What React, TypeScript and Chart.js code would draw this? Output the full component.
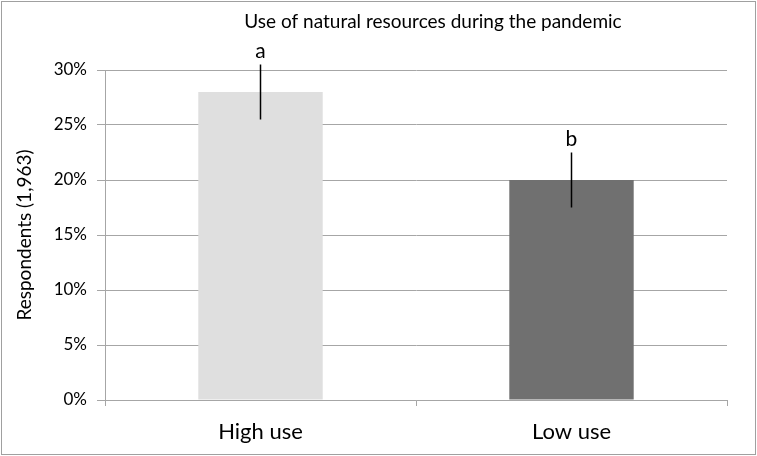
import { useEffect, useRef } from "react";
import { Chart, registerables } from "chart.js";

Chart.register(...registerables);

// Share of respondents (%) by level of natural-resource use
const categories = ["High use", "Low use"];
const respondentShare = [28, 20];
const errorMargin = [2.5, 2.5];
const significanceLetters = ["a", "b"];
const yTickValues = [0, 5, 10, 15, 20, 25, 30];
const chartTitle = "Use of natural resources during the pandemic";

const FONT = "Lato, 'Open Sans', sans-serif";
const GRID = "#a6a6a6";
const BAR_FILLS = ["#dfdfdf", "#707070"];

// Vertical error lines plus the significance letter above each bar
const errorBarPlugin = {
  id: "errorBars",
  afterDatasetsDraw(chart: any) {
    const { ctx } = chart;
    const yScale = chart.scales.y;
    const meta = chart.getDatasetMeta(0);
    ctx.save();
    meta.data.forEach((bar: any, i: number) => {
      const v = respondentShare[i];
      const e = errorMargin[i];
      const top = yScale.getPixelForValue(v + e);
      const bottom = yScale.getPixelForValue(v - e);
      ctx.strokeStyle = "#000";
      ctx.lineWidth = 1.5;
      ctx.beginPath();
      ctx.moveTo(bar.x, top);
      ctx.lineTo(bar.x, bottom);
      ctx.stroke();
      ctx.fillStyle = "#000";
      ctx.font = `21px ${FONT}`;
      ctx.textAlign = "center";
      ctx.textBaseline = "alphabetic";
      ctx.fillText(significanceLetters[i], bar.x, top - 7);
    });
    ctx.restore();
  },
};

// Chart heading (sits slightly right of the plot centre) and a thin grey frame
const framePlugin = {
  id: "frame",
  afterDraw(chart: any) {
    const { ctx, width, height, chartArea } = chart;
    ctx.save();
    ctx.fillStyle = "#000";
    ctx.font = `19px ${FONT}`;
    ctx.textAlign = "center";
    ctx.textBaseline = "middle";
    ctx.fillText(chartTitle, (chartArea.left + chartArea.right) / 2 + 17, 22);
    ctx.strokeStyle = "#a0a0a0";
    ctx.lineWidth = 1;
    ctx.strokeRect(1.5, 1.5, width - 3, height - 3);
    ctx.restore();
  },
};

export default function App() {
  const canvasRef = useRef<HTMLCanvasElement | null>(null);

  useEffect(() => {
    if (!canvasRef.current) return;
    const chart = new Chart(canvasRef.current, {
      type: "bar",
      data: {
        labels: categories,
        datasets: [
          {
            data: respondentShare,
            backgroundColor: BAR_FILLS,
            borderWidth: 0,
            barPercentage: 0.4,
            categoryPercentage: 1,
          },
        ],
      },
      options: {
        animation: false,
        responsive: false,
        layout: { padding: { left: 0, right: 30, top: 70, bottom: 0 } },
        plugins: {
          legend: { display: false },
          tooltip: { enabled: false },
          title: { display: false },
        },
        scales: {
          x: {
            offset: true,
            grid: {
              offset: true,
              drawOnChartArea: false,
              drawTicks: true,
              tickLength: 6,
              color: GRID,
            },
            border: { color: GRID, width: 1 },
            ticks: {
              color: "#000",
              font: { family: FONT, size: 22 },
              padding: 13,
            },
            afterFit(scale: any) {
              scale.height = 56;
            },
          },
          y: {
            min: 0,
            max: 30,
            afterBuildTicks(scale: any) {
              scale.ticks = yTickValues.map((value) => ({ value }));
            },
            grid: { color: GRID, tickLength: 8, drawTicks: true },
            border: { color: GRID, width: 1 },
            ticks: {
              color: "#000",
              font: { family: FONT, size: 17 },
              padding: 10,
              callback: (v: any) => `${v}%`,
            },
            title: {
              display: true,
              text: "Respondents (1,963)",
              color: "#000",
              font: { family: FONT, size: 19 },
              padding: { top: 13, bottom: 4 },
            },
            afterFit(scale: any) {
              scale.width = 105;
            },
          },
        },
      },
      plugins: [errorBarPlugin, framePlugin],
    });
    return () => chart.destroy();
  }, []);

  return (
    <div style={{ position: "fixed", left: 0, top: 0, width: 757, height: 456, background: "#fff" }}>
      <canvas ref={canvasRef} width={757} height={456} style={{ display: "block" }} />
    </div>
  );
}
